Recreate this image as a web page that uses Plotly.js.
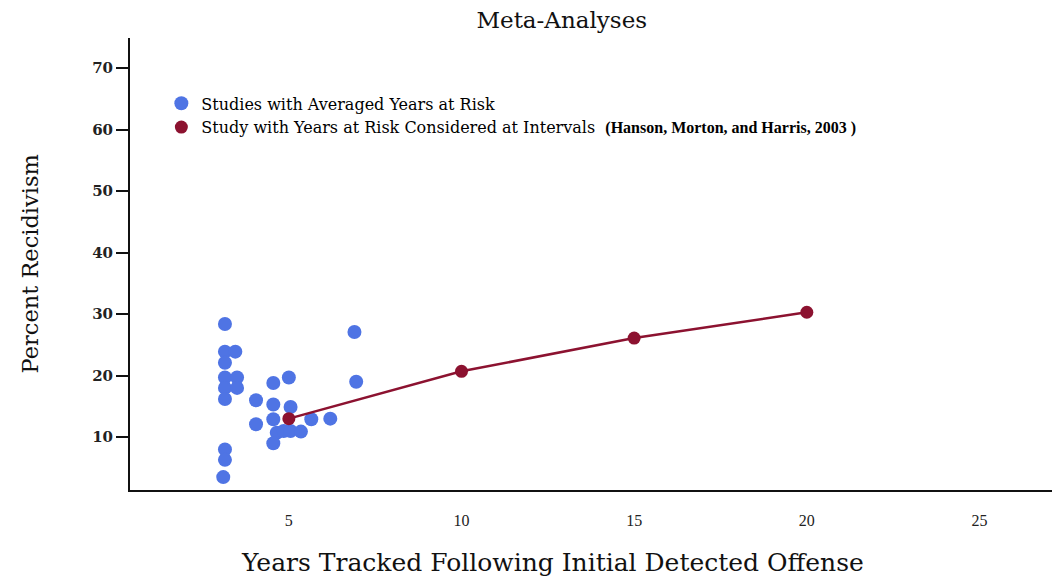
<!DOCTYPE html>
<html>
<head>
<meta charset="utf-8">
<script src="https://cdn.plot.ly/plotly-3.0.1.min.js"></script>
<style>html,body{margin:0;padding:0;background:#fff;}#chart{width:1052px;height:580px;}</style>
</head>
<body>
<div id="chart"></div>
<script>
// Data
const averagedYears = [3.15, 3.15, 3.45, 3.15, 3.15, 3.5, 3.15, 3.5, 3.15, 4.55, 5.0, 4.05, 4.55, 5.05, 4.55, 4.05, 5.65, 6.2, 4.65, 4.85, 5.05, 5.35, 4.55, 3.15, 3.15, 3.1, 6.9, 6.95];
const averagedRecid = [28.4, 23.9, 23.9, 22.1, 19.7, 19.7, 18.0, 18.0, 16.2, 18.8, 19.7, 16.0, 15.3, 14.9, 12.9, 12.1, 12.9, 13.0, 10.7, 11.0, 11.0, 10.9, 9.0, 8.0, 6.3, 3.5, 27.1, 19.0];
const intervalYears = [5, 10, 15, 20];
const intervalRecid = [13.0, 20.7, 26.1, 30.3];
const xTicks = [5, 10, 15, 20, 25];
const yTicks = [10, 20, 30, 40, 50, 60, 70];

const blue = '#4f74e4';
const red = '#8c1230';
const serif = '"Liberation Serif", "DejaVu Serif", serif';
const wide = '"DejaVu Serif", "Liberation Serif", serif';

const traces = [
  {
    x: averagedYears, y: averagedRecid, type: 'scatter', mode: 'markers',
    name: 'Studies with Averaged Years at Risk',
    marker: {color: blue, size: 14}
  },
  {
    x: intervalYears, y: intervalRecid, type: 'scatter', mode: 'lines+markers',
    showlegend: false,
    line: {color: red, width: 2.5},
    marker: {color: red, size: 13}
  },
  {
    x: [null], y: [null], type: 'scatter', mode: 'markers',
    name: 'Study with Years at Risk Considered at Intervals  <span style="font-family:Liberation Serif;font-size:16px;font-weight:bold">(Hanson, Morton, and Harris, 2003 )</span>',
    marker: {color: red, size: 13}
  }
];

const layout = {
  width: 1052, height: 580,
  margin: {l: 130, r: 0, t: 38, b: 90},
  paper_bgcolor: '#fff', plot_bgcolor: '#fff',
  showlegend: true,
  title: {text: 'Meta-Analyses', font: {family: wide, size: 23, color: '#111'},
          x: 0.534, xanchor: 'center', y: 0.966, yanchor: 'middle'},
  xaxis: {
    range: [0.4, 27.1], tickvals: xTicks, ticktext: xTicks.map(String),
    showgrid: false, zeroline: false, showline: true, linecolor: '#111', linewidth: 2,
    ticks: '', ticklabelstandoff: 15,
    tickfont: {family: serif, size: 16, color: '#222'}
  },
  yaxis: {
    range: [1.4, 74.9], tickvals: yTicks, ticktext: yTicks.map(String),
    showgrid: false, zeroline: false, showline: true, linecolor: '#111', linewidth: 2,
    ticks: 'outside', ticklen: 12, tickwidth: 2, tickcolor: '#111',
    tickfont: {family: '"DejaVu Serif", serif', size: 15, color: '#222', weight: 'bold'}
  },
  legend: {
    x: 0.034, y: 0.893, xanchor: 'left', yanchor: 'top',
    bgcolor: 'rgba(0,0,0,0)', borderwidth: 0,
    font: {family: wide, size: 16, color: '#000'},
    itemwidth: 30
  },
  annotations: [
    {text: 'Years Tracked Following Initial Detected Offense', xref: 'paper', yref: 'paper',
     x: 0.458, y: -0.1615, xanchor: 'center', yanchor: 'middle', showarrow: false,
     font: {family: wide, size: 25, color: '#111'}},
    {text: 'Percent Recidivism', xref: 'paper', yref: 'paper', textangle: -90,
     x: -0.108, y: 0.5, xanchor: 'center', yanchor: 'middle', showarrow: false,
     font: {family: wide, size: 22.5, color: '#111'}}
  ]
};

Plotly.newPlot('chart', traces, layout, {displayModeBar: false, staticPlot: true});
</script>
</body>
</html>
